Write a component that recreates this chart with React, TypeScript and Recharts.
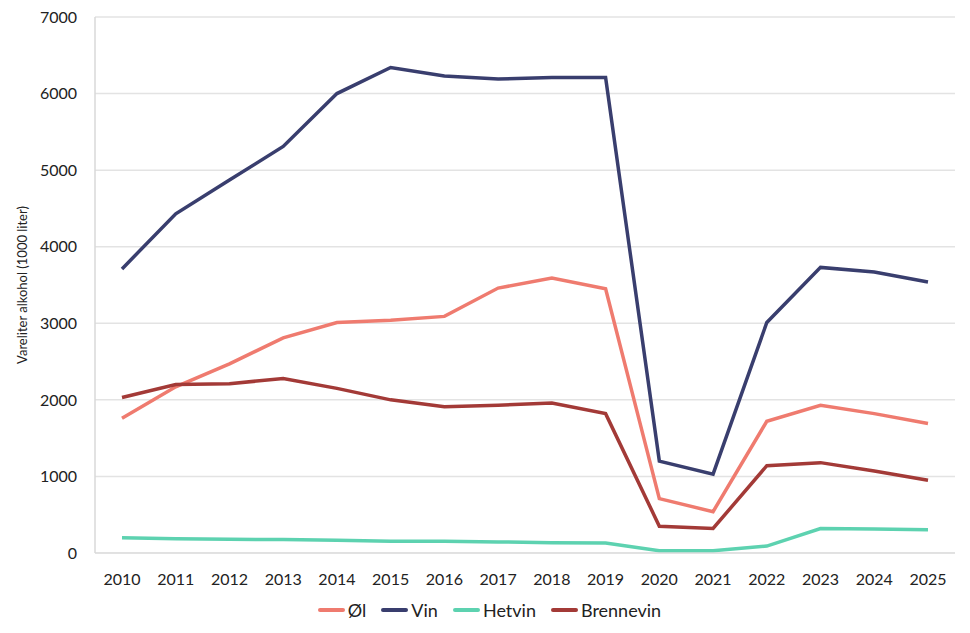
import {
  LineChart,
  Line,
  XAxis,
  YAxis,
  CartesianGrid,
  Legend,
} from "recharts";

const years = [
  "2010", "2011", "2012", "2013", "2014", "2015", "2016", "2017",
  "2018", "2019", "2020", "2021", "2022", "2023", "2024", "2025",
];

const ol = [1760, 2170, 2470, 2810, 3010, 3040, 3090, 3460, 3590, 3450, 710, 540, 1720, 1930, 1820, 1690];
const vin = [3710, 4430, 4870, 5310, 6000, 6340, 6230, 6190, 6210, 6210, 1200, 1030, 3010, 3730, 3670, 3540];
const hetvin = [200, 185, 180, 175, 165, 155, 155, 145, 135, 130, 30, 30, 90, 320, 315, 305];
const brennevin = [2030, 2200, 2210, 2280, 2150, 2000, 1910, 1930, 1960, 1820, 350, 320, 1140, 1180, 1070, 950];

const yTicks = [0, 1000, 2000, 3000, 4000, 5000, 6000, 7000];

const series = [
  { key: "ol", name: "Øl", color: "#EF7B6F" },
  { key: "vin", name: "Vin", color: "#393E6E" },
  { key: "hetvin", name: "Hetvin", color: "#5DD2B0" },
  { key: "brennevin", name: "Brennevin", color: "#A33A37" },
];

const data = years.map((year, i) => ({
  year,
  ol: ol[i],
  vin: vin[i],
  hetvin: hetvin[i],
  brennevin: brennevin[i],
}));

const font = "Lato, 'Open Sans', sans-serif";

function LegendRow() {
  return (
    <div
      style={{
        display: "flex",
        justifyContent: "center",
        gap: 15,
        paddingLeft: 24,
        fontFamily: font,
        fontSize: 18,
        color: "#222",
      }}
    >
      {series.map((s) => (
        <div key={s.key} style={{ display: "flex", alignItems: "center" }}>
          <span
            style={{
              display: "inline-block",
              width: 27,
              height: 4,
              borderRadius: 2,
              background: s.color,
              marginRight: 3,
            }}
          />
          {s.name}
        </div>
      ))}
    </div>
  );
}

export default function App() {
  return (
    <div style={{ position: "absolute", left: 0, top: 0, background: "#fff" }}>
      <LineChart
        width={970}
        height={633}
        data={data}
        margin={{ top: 17, right: 15, bottom: 0, left: 0 }}
      >
        <CartesianGrid vertical={false} stroke="#e3e3e3" strokeWidth={1.5} />
        <XAxis
          dataKey="year"
          axisLine={{ stroke: "#d9d9d9" }}
          tickLine={false}
          tickSize={0}
          tickMargin={21}
          height={58}
          padding={{ left: 27, right: 27 }}
          tick={{ fill: "#222", fontSize: 16, fontFamily: font }}
          interval={0}
        />
        <YAxis
          width={95}
          domain={[0, 7000]}
          ticks={yTicks}
          axisLine={{ stroke: "#d9d9d9", strokeWidth: 1.5 }}
          tickLine={false}
          tickSize={0}
          tickMargin={18}
          tick={{ fill: "#222", fontSize: 16, fontFamily: font }}
          label={{
            value: "Vareliter alkohol (1000 liter)",
            angle: -90,
            position: "insideLeft",
            offset: 22,
            style: { textAnchor: "middle", fill: "#222", fontSize: 13, fontFamily: font },
          }}
        />
        <Legend
          verticalAlign="bottom"
          wrapperStyle={{ bottom: 12 }}
          content={() => <LegendRow />}
        />
        {series.map((s) => (
          <Line
            key={s.key}
            type="linear"
            dataKey={s.key}
            name={s.name}
            stroke={s.color}
            strokeWidth={3.5}
            dot={false}
            activeDot={false}
            isAnimationActive={false}
          />
        ))}
      </LineChart>
    </div>
  );
}
